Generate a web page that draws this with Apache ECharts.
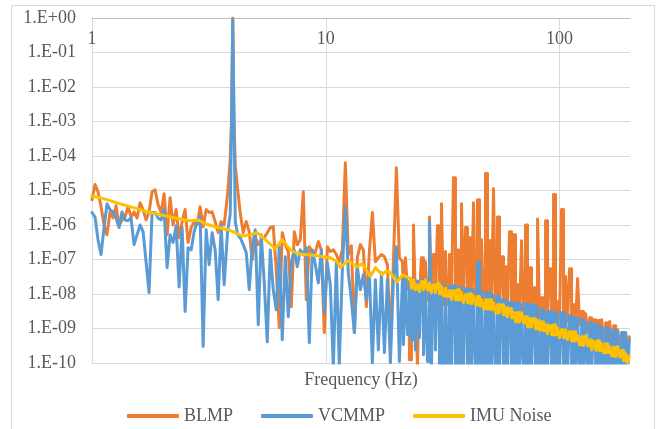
<!DOCTYPE html>
<html><head><meta charset="utf-8">
<script src="https://cdn.jsdelivr.net/npm/echarts@6.0.0/dist/echarts.min.js"></script>
<style>html,body{margin:0;padding:0;background:#fff}#c{width:660px;height:429px}</style>
</head><body><div id="c"></div>
<script>
// Frequency (Hz) shared by BLMP and VCMMP
const freq = [
1.000,1.030,1.061,1.093,1.126,1.159,1.194,1.230,1.267,1.305,
1.344,1.385,1.426,1.469,1.513,1.559,1.606,1.654,1.703,1.754,
1.807,1.861,1.917,1.975,2.034,2.095,2.158,2.223,2.290,2.358,
2.429,2.502,2.577,2.655,2.734,2.816,2.901,2.988,3.078,3.170,
3.265,3.363,3.464,3.568,3.675,
3.80,3.90,3.95,4.00,4.05,4.10,4.20,
4.303,4.434,4.567,4.704,4.845,4.991,5.141,5.295,5.454,5.618,
5.786,5.960,6.139,6.323,6.513,6.709,6.910,7.118,7.331,7.551,
7.778,8.012,8.252,8.500,8.755,9.018,9.289,9.568,9.853,10.15,
10.45,10.77,11.09,11.42,11.77,12.12,12.48,12.86,13.25,13.64,
14.05,14.48,14.91,15.36,15.82,16.29,16.78,17.29,17.81,18.34,
18.89,19.46,20.04,20.64,
21.27,21.69,22.12,22.56,23.01,23.47,23.94,24.41,24.90,25.39,
25.90,26.42,26.94,27.48,28.03,28.58,29.15,29.73,30.32,30.93,
31.54,32.17,32.81,33.46,34.13,34.81,35.50,36.21,36.93,37.67,
38.42,39.18,39.96,40.76,41.57,42.40,43.24,44.10,44.98,45.88,
46.79,47.72,48.67,49.64,50.63,51.64,52.66,53.71,54.78,55.87,
56.98,58.12,59.28,60.46,61.66,62.89,64.14,65.42,66.72,68.05,
69.40,70.78,72.19,73.63,75.10,76.59,78.11,79.67,81.25,82.87,
84.52,86.20,87.92,89.67,91.45,93.28,95.13,97.03,98.96,100.9,
102.9,105.0,107.1,109.2,111.4,113.6,115.9,118.2,120.5,122.9,
125.4,127.9,130.4,133.0,135.7,138.4,141.1,144.0,146.8,149.8,
152.7,155.8,158.9,162.1,165.3,168.6,172.0,175.4,178.9,182.4,
186.1,189.8,193.6,197.4,200
];
const blmp = [
5.4e-6,1.5e-5,9.2e-6,3.4e-6,1.0e-6,5.2e-7,2.4e-6,1.6e-6,3.6e-6,9.5e-7,
1.4e-6,1.7e-6,3.4e-6,1.7e-6,2.4e-6,1.6e-6,4.4e-6,2.8e-6,1.4e-6,2.4e-6,
9.2e-6,1.05e-5,3.9e-6,2.3e-6,8.1e-6,5.2e-7,6.2e-6,1.0e-6,2.8e-6,4.3e-7,
1.25e-6,2.8e-6,3.1e-7,8.4e-7,1.25e-6,1.0e-6,3.4e-6,8.9e-7,2.8e-6,2.3e-6,
2.4e-6,1.25e-6,6.0e-7,1.25e-6,1.0e-6,
7.6e-6,7.8e-5,1e-3,1.0,1e-3,5.2e-5,1.05e-5,
2.3e-6,6.0e-7,1.25e-6,6.4e-7,9.9e-8,4.6e-7,2.7e-7,3.75e-7,4.3e-7,6.0e-7,
8.4e-7,8.9e-7,5.0e-8,1.05e-9,6.0e-7,2.7e-7,1.7e-7,4.3e-9,6.4e-7,2.7e-7,
3.75e-7,9.2e-6,6.8e-9,2.35e-7,1.7e-7,1.6e-7,3.3e-7,1.9e-7,7.6e-10,2.35e-7,
1.7e-7,1.9e-7,1.4e-7,8.6e-8,1.9e-7,6.4e-5,1.4e-7,2.5e-7,7.6e-10,1.13e-7,
2.7e-7,1.9e-7,4.3e-9,1.7e-7,2.3e-6,8.6e-8,1.13e-7,1.4e-7,1.2e-7,7.1e-8,
4.7e-10,8.6e-8,4.6e-5,1.13e-7,
8.6e-8,6.8e-9,1.13e-7,1.33e-8,1.25e-10,6.8e-9,1.0e-6,6.8e-9,8.9e-11,9.5e-9,
1.13e-7,6.8e-9,8.6e-8,6.8e-9,1.7e-6,6.8e-9,1.4e-7,6.8e-9,9.5e-7,6.8e-9,
4.1e-6,4.9e-9,1.7e-7,4.9e-9,1.4e-7,4.9e-9,2.35e-5,4.9e-9,1.9e-7,4.9e-9,
4.1e-6,4.9e-9,8.4e-7,4.9e-9,4.3e-7,4.9e-9,4.4e-6,4.9e-9,5.4e-6,4.9e-9,
3.75e-7,4.9e-9,3.1e-5,4.9e-9,3.5e-7,4.9e-9,1.13e-5,3.5e-9,1.7e-6,3.5e-9,
1.2e-7,3.1e-9,6.2e-8,3.1e-9,6.4e-7,3.1e-9,5.2e-7,2.5e-9,1.86e-8,2.5e-9,
3.5e-7,2.5e-9,1.0e-6,2.5e-9,5.8e-8,2.5e-9,1.52e-8,2.05e-9,1.5e-6,2.05e-9,
7.8e-9,2.05e-9,1.33e-6,2.05e-9,5.4e-8,1.8e-9,7.6e-6,1.8e-9,6.0e-9,1.8e-9,
2.8e-6,1.6e-9,3.2e-8,1.6e-9,5.4e-8,1.6e-9,4.9e-9,1.29e-9,2.8e-8,1.29e-9,
3.1e-9,9.2e-10,2.7e-9,8.1e-10,2.05e-9,7.1e-10,1.8e-9,6.2e-10,1.7e-9,5.4e-10,
1.8e-9,4.7e-10,1.47e-9,4.1e-10,1.6e-9,3.6e-10,1.2e-9,3.2e-10,9.2e-10,2.8e-10,
7.6e-10,2.4e-10,6.6e-10,2.1e-10,5.8e-10
];
const vcmmp = [
2.3e-6,1.7e-6,3.75e-7,1.4e-7,8.4e-7,4.1e-6,2.8e-6,2.4e-6,1.6e-6,8.4e-7,
2.4e-6,1.4e-6,1.33e-6,1.6e-6,2.7e-7,5.2e-7,1.0e-6,6.4e-7,8.6e-8,1.1e-8,
2.3e-6,2.3e-6,1.6e-6,1.4e-6,2.8e-6,5.8e-8,5.2e-7,3.1e-7,9.5e-7,1.6e-8,
8.4e-7,3.1e-9,2.2e-7,1.9e-7,6.4e-7,1.25e-6,1.7e-6,3.0e-10,7.3e-7,7.1e-8,
6.0e-7,1.9e-7,6.8e-9,1.0e-6,1.86e-8,
6.4e-7,2.0e-6,1e-3,0.9,1e-3,1.25e-6,5.2e-7,
4.3e-7,2.7e-7,1.6e-7,1.33e-8,2.35e-7,7.3e-7,1.29e-9,5.2e-7,2.1e-8,4.1e-10,
1.9e-7,1.33e-8,3.5e-9,2.35e-7,4.7e-10,1.2e-7,2.2e-9,8.1e-8,1.9e-7,6.2e-8,
1.9e-7,1.4e-7,2.2e-7,3.9e-10,1.9e-7,7.1e-8,2.1e-8,1.9e-7,2.9e-9,8.1e-8,
1.86e-8,8e-11,8.1e-8,8.9e-11,5.0e-8,3.4e-6,4.1e-8,6.8e-9,7.6e-10,6.2e-8,
1.33e-8,3.6e-8,6.8e-9,4.1e-8,1.0e-10,2.6e-8,2.4e-10,4.1e-8,2.0e-10,2.6e-8,
1.0e-10,2.6e-8,2.35e-7,1.1e-10,
2.6e-8,3.4e-10,3.0e-8,6.6e-10,2.3e-8,4.7e-10,2.8e-8,2.4e-10,2.4e-8,5.4e-10,
2.6e-8,1.74e-10,2.1e-8,1.1e-10,1.25e-6,8.9e-11,2.0e-8,2.4e-10,1.86e-8,7.3e-11,
2.0e-8,6.4e-11,1.74e-8,6.4e-11,1.63e-8,5.6e-11,1.74e-8,5.6e-11,1.52e-8,5.6e-11,
1.52e-8,5.6e-11,1.42e-8,5.6e-11,1.33e-8,5.6e-11,1.33e-8,5.6e-11,8.6e-8,5.6e-11,
1.17e-8,5.6e-11,1.09e-8,5.6e-11,1.02e-8,5.6e-11,8.9e-9,5.6e-11,8.4e-9,5.6e-11,
6.8e-9,5.6e-11,6.4e-9,5.6e-11,5.6e-9,5.6e-11,5.2e-9,5.6e-11,5.6e-9,5.6e-11,
4.9e-9,5.6e-11,5.2e-9,5.6e-11,4.9e-9,5.6e-11,4.6e-9,5.6e-11,4.3e-9,5.6e-11,
3.5e-9,5.6e-11,2.9e-9,5.6e-11,3.1e-9,5.6e-11,2.9e-9,5.6e-11,2.7e-9,5.6e-11,
2.9e-9,5.6e-11,2.5e-9,5.6e-11,2.35e-9,5.6e-11,2.05e-9,5.6e-11,2.05e-9,5.6e-11,
1.8e-9,5.6e-11,1.6e-9,5.6e-11,1.47e-9,5.6e-11,1.29e-9,5.6e-11,1.2e-9,5.6e-11,
1.13e-9,5.6e-11,1.05e-9,5.6e-11,9.9e-10,5.6e-11,9.2e-10,5.6e-11,8.1e-10,5.6e-11,
7.6e-10,5.6e-11,7.6e-10,5.6e-11,4.7e-10
];
const imuFreq = [
1.0,1.082,1.194,1.318,1.455,1.606,1.772,1.956,2.158,2.382,
2.629,2.844,3.048,3.363,3.824,4.097,4.390,4.751,5.090,5.507,
6.078,6.513,7.048,7.551,8.171,9.018,10.45,11.20,11.53,12.36,
12.99,13.64,14.33,15.06,15.51,16.29,16.95,17.46,18.16,18.89,
19.65,20.24,21.27,22.12,
23.01,23.47,23.94,24.41,24.90,25.39,25.90,26.42,26.94,27.48,
28.03,28.58,29.15,29.73,30.32,30.93,31.54,32.17,32.81,33.46,
34.13,34.81,35.50,36.21,36.93,37.67,38.42,39.18,39.96,40.76,
41.57,42.40,43.24,44.10,44.98,45.88,46.79,47.72,48.67,49.64,
50.63,51.64,52.66,53.71,54.78,55.87,56.98,58.12,59.28,60.46,
61.66,62.89,64.14,65.42,66.72,68.05,69.40,70.78,72.19,73.63,
75.10,76.59,78.11,79.67,81.25,82.87,84.52,86.20,87.92,89.67,
91.45,93.28,95.13,97.03,98.96,100.9,102.9,105.0,107.1,109.2,
111.4,113.6,115.9,118.2,120.5,122.9,125.4,127.9,130.4,133.0,
135.7,138.4,141.1,144.0,146.8,149.8,152.7,155.8,158.9,162.1,
165.3,168.6,172.0,175.4,178.9,182.4,186.1,189.8,193.6,197.4,
200
];
const imuNoise = [
6.9e-6,6.2e-6,5.1e-6,4.1e-6,3.4e-6,2.8e-6,2.3e-6,2.0e-6,1.7e-6,1.5e-6,
1.33e-6,1.4e-6,1.1e-6,8.9e-7,7.3e-7,6.0e-7,4.8e-7,5.2e-7,6.0e-7,3.75e-7,
2.05e-7,3.75e-7,1.9e-7,1.5e-7,1.4e-7,1.3e-7,1.13e-7,8.6e-8,5.8e-8,9.2e-8,
7.6e-8,6.2e-8,7.6e-8,4.4e-8,3.2e-8,5.8e-8,4.4e-8,3.6e-8,4.7e-8,4.1e-8,
2.8e-8,2.3e-8,3.6e-8,3.2e-8,
2.8e-8,1.5e-8,2.6e-8,1.33e-8,1.86e-8,1.17e-8,2.3e-8,1.33e-8,2.6e-8,1.33e-8,
2.1e-8,1.09e-8,1.86e-8,1.09e-8,2.0e-8,1.02e-8,1.63e-8,8.9e-9,1.5e-8,8.4e-9,
1.25e-8,6.8e-9,1.25e-8,6.8e-9,1.33e-8,6.8e-9,1.09e-8,5.6e-9,9.5e-9,5.6e-9,
1.02e-8,5.2e-9,8.9e-9,4.9e-9,8.4e-9,4.6e-9,6.8e-9,3.75e-9,6.8e-9,3.75e-9,
6.8e-9,3.5e-9,5.6e-9,2.85e-9,4.9e-9,2.85e-9,4.9e-9,2.5e-9,4.0e-9,2.2e-9,
3.75e-9,2.05e-9,2.85e-9,1.57e-9,2.85e-9,1.57e-9,2.85e-9,1.47e-9,2.2e-9,1.13e-9,
1.92e-9,1.13e-9,1.92e-9,9.9e-10,1.68e-9,9.2e-10,1.57e-9,8.6e-10,1.29e-9,7.1e-10,
1.2e-9,6.6e-10,1.29e-9,6.6e-10,1.05e-9,5.4e-10,9.2e-10,5.4e-10,9.2e-10,4.7e-10,
8.1e-10,4.4e-10,8.1e-10,4.4e-10,6.2e-10,3.4e-10,5.8e-10,3.2e-10,6.2e-10,3.2e-10,
4.7e-10,2.4e-10,4.1e-10,2.4e-10,4.4e-10,2.3e-10,3.6e-10,2.0e-10,3.6e-10,2.0e-10,
3.0e-10,1.63e-10,2.8e-10,1.52e-10,3.0e-10,1.52e-10,2.3e-10,1.17e-10,1.86e-10,1.02e-10,
1.63e-10
];
const seriesNames = ['BLMP', 'VCMMP', 'IMU Noise'];
const seriesColors = ['#ED7D31', '#5B9BD5', '#FFC000'];
const xTickLabels = [1, 10, 100];
// index where the dense (band-like) part of each spectrum starts
const denseStart = 106;
const imuDenseStart = 44;

const FONT = '"Liberation Serif", "Times New Roman", serif';
const TXT = '#595959';
const pair = (xs, ys, a, b) => xs.slice(a, b).map((x, i) => [x, ys[a + i]]);
const mk = (i, data, step) => ({
  name: seriesNames[i], type: 'line', data, step: step ? 'middle' : false,
  symbol: 'none', showSymbol: false, clip: true, z: 2 + i,
  lineStyle: { color: seriesColors[i], width: 3, cap: 'round', join: 'round' },
  itemStyle: { color: seriesColors[i] },
  emphasis: { disabled: true }, animation: false
});
const chart = echarts.init(document.getElementById('c'));
chart.setOption({
  animation: false,
  textStyle: { fontFamily: FONT },
  grid: { left: 92, right: 30, top: 18, bottom: 66, containLabel: false },
  xAxis: {
    type: 'log', logBase: 10, min: 1, max: 200, position: 'top',
    axisLine: { show: true, lineStyle: { color: '#bfbfbf', width: 1 } },
    axisTick: { show: false },
    axisLabel: {
      inside: true, margin: 12, color: TXT, fontSize: 18, fontFamily: FONT,
      formatter: v => { const r = Math.round(v); return (xTickLabels.includes(r) && Math.abs(v - r) / r < 1e-6) ? String(r) : ''; }
    },
    splitLine: { show: true, showMaxLine: false, lineStyle: { color: '#d9d9d9', width: 1 } }
  },
  yAxis: {
    type: 'log', logBase: 10, min: 1e-10, max: 1, interval: 1,
    axisLine: { show: true, lineStyle: { color: '#d9d9d9', width: 1 } },
    axisTick: { show: false },
    axisLabel: {
      margin: 16, color: TXT, fontSize: 18, fontFamily: FONT,
      formatter: v => { const e = Math.round(Math.log10(v)); return '1.E' + (e < 0 ? '-' : '+') + String(Math.abs(e)).padStart(2, '0'); }
    },
    splitLine: { show: true, lineStyle: { color: '#d9d9d9', width: 1 } }
  },
  legend: {
    data: seriesNames, left: 122, top: 402, itemWidth: 52, itemHeight: 4, itemGap: 28,
    icon: 'roundRect',
    textStyle: { color: TXT, fontSize: 18, fontFamily: FONT },
    selectedMode: false
  },
  graphic: [
    { type: 'rect', silent: true, z: -10, shape: { x: 11.5, y: 5.5, width: 643, height: 440 },
      style: { fill: 'none', stroke: '#d9d9d9', lineWidth: 1 } },
    { type: 'text', silent: true, x: 361, y: 380,
      style: { text: 'Frequency (Hz)', align: 'center', verticalAlign: 'middle', fontSize: 18, fontFamily: FONT, fill: TXT } }
  ],
  series: [
    mk(0, pair(freq, blmp, 0, denseStart + 1), false),
    mk(0, pair(freq, blmp, denseStart, freq.length), true),
    mk(1, pair(freq, vcmmp, 0, denseStart + 1), false),
    mk(1, pair(freq, vcmmp, denseStart, freq.length), true),
    mk(2, pair(imuFreq, imuNoise, 0, imuDenseStart + 1), false),
    mk(2, pair(imuFreq, imuNoise, imuDenseStart, imuFreq.length), true)
  ]
});
</script></body></html>
